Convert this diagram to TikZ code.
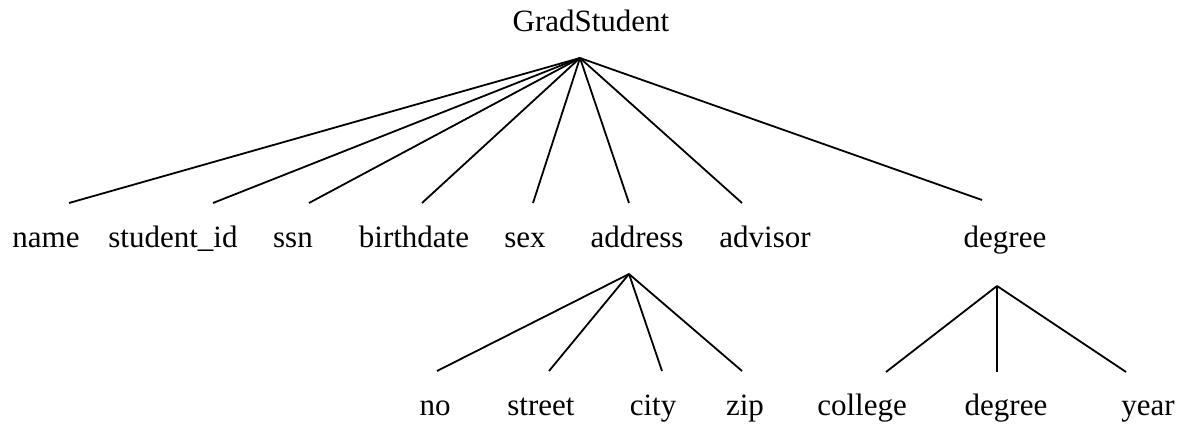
\documentclass[tikz,border=0pt]{standalone}
\usepackage{fontspec}
\setmainfont{Liberation Serif}
\begin{document}
\begin{tikzpicture}[x=1pt,y=-1pt,
  lbl/.style={anchor=base,inner sep=0pt,font=\fontsize{31}{36}\selectfont},
  edge/.style={line width=1.8pt}]
\useasboundingbox (0,0) rectangle (1191,427);

% labels
\node[lbl] (grad) at (591,32) {GradStudent};
\node[lbl] (name) at (46,248) {name};
\node[lbl] (sid) at (173,248) {student\_id};
\node[lbl] (ssn) at (293,248) {ssn};
\node[lbl] (birth) at (414,248) {birthdate};
\node[lbl] (sex) at (525,248) {sex};
\node[lbl] (addr) at (637,248) {address};
\node[lbl] (adv) at (765,248) {advisor};
\node[lbl] (deg) at (1005,248) {degree};
\node[lbl] (no) at (435,415) {no};
\node[lbl] (street) at (541,415) {street};
\node[lbl] (city) at (653,415) {city};
\node[lbl] (zip) at (745,415) {zip};
\node[lbl] (coll) at (862,415) {college};
\node[lbl] (deg2) at (1006,415) {degree};
\node[lbl] (year) at (1148,415) {year};

% branch points
\coordinate (rootpt) at (580,58);
\coordinate (addrpt) at (629,274);
\coordinate (degpt) at (997,286);

% line ends above child labels
\coordinate (e-name) at (69,203);
\coordinate (e-sid) at (213,203);
\coordinate (e-ssn) at (309,203);
\coordinate (e-birth) at (422,203);
\coordinate (e-sex) at (533,203);
\coordinate (e-addr) at (629,203);
\coordinate (e-adv) at (742,203);
\coordinate (e-deg) at (982,200);
\coordinate (e-no) at (437,371);
\coordinate (e-street) at (549,371);
\coordinate (e-city) at (662,371);
\coordinate (e-zip) at (742,371);
\coordinate (e-coll) at (886,372);
\coordinate (e-deg2) at (997,372);
\coordinate (e-year) at (1126,372);

% tree edges
\foreach \c in {name,sid,ssn,birth,sex,addr,adv,deg}
  \draw[edge] (rootpt) -- (e-\c);
\foreach \c in {no,street,city,zip}
  \draw[edge] (addrpt) -- (e-\c);
\foreach \c in {coll,deg2,year}
  \draw[edge] (degpt) -- (e-\c);
\end{tikzpicture}
\end{document}
